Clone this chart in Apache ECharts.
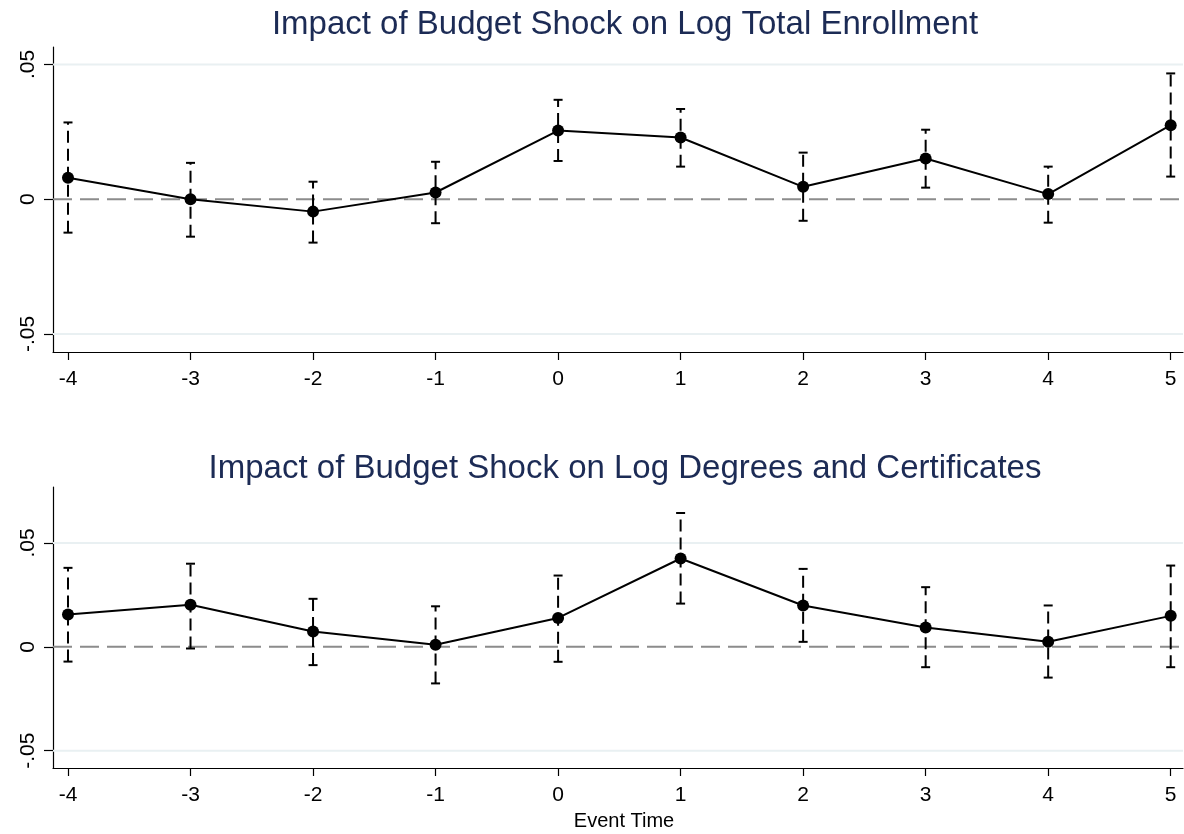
<!DOCTYPE html>
<html>
<head>
<meta charset="utf-8">
<script src="https://cdn.jsdelivr.net/npm/echarts@6/dist/echarts.min.js"></script>
<style>
html,body{margin:0;padding:0;background:#fff;}
#chart{width:1184px;height:834px;}
</style>
</head>
<body>
<div id="chart"></div>
<script>
const eventTime = [-4, -3, -2, -1, 0, 1, 2, 3, 4, 5];
const enrollCoef = [0.0080, 0.0000, -0.0046, 0.0025, 0.0255, 0.0229, 0.0046, 0.0151, 0.0019, 0.0275];
const enrollLo   = [-0.0124, -0.0139, -0.0161, -0.0089, 0.0142, 0.0121, -0.0080, 0.0043, -0.0087, 0.0084];
const enrollHi   = [0.0285, 0.0135, 0.0065, 0.0139, 0.0369, 0.0335, 0.0173, 0.0258, 0.0121, 0.0467];
const degCoef = [0.0155, 0.0202, 0.0074, 0.0010, 0.0139, 0.0425, 0.0199, 0.0093, 0.0024, 0.0149];
const degLo   = [-0.0071, -0.0008, -0.0088, -0.0176, -0.0072, 0.0208, 0.0024, -0.0098, -0.0148, -0.0098];
const degHi   = [0.0380, 0.0400, 0.0231, 0.0195, 0.0343, 0.0644, 0.0375, 0.0287, 0.0199, 0.0391];
const yTicks = [-0.05, 0, 0.05];
const titles = ['Impact of Budget Shock on Log Total Enrollment', 'Impact of Budget Shock on Log Degrees and Certificates'];
const xTitle = 'Event Time';

const FONT = '"Liberation Sans", Arial, Helvetica, sans-serif';
const chart = echarts.init(document.getElementById('chart'), null, {renderer: 'canvas'});

function fmtY(v) {
  if (Math.abs(v) < 1e-9) return '0';
  return (v < 0 ? '-' : '') + Math.abs(v).toFixed(2).replace(/^0/, '');
}

function errRender(params, api) {
  const x = api.value(0), lo = api.value(1), hi = api.value(2);
  const pLo = api.coord([x, lo]);
  const pHi = api.coord([x, hi]);
  const w = 4.5;
  const st = {stroke: '#000', lineWidth: 2, fill: null};
  return {
    type: 'group',
    children: [
      {type: 'line', shape: {x1: pLo[0], y1: pLo[1], x2: pHi[0], y2: pHi[1]}, style: Object.assign({}, st, {lineDash: [12, 6]})},
      {type: 'line', shape: {x1: pLo[0] - w, y1: pLo[1], x2: pLo[0] + w, y2: pLo[1]}, style: st},
      {type: 'line', shape: {x1: pHi[0] - w, y1: pHi[1], x2: pHi[0] + w, y2: pHi[1]}, style: st}
    ]
  };
}

function refRender(params, api) {
  const v = api.value(0);
  const cs = params.coordSys;
  const p = api.coord([0, v]);
  const isZero = Math.abs(v) < 1e-9;
  return {
    type: 'line',
    shape: {x1: cs.x, y1: p[1], x2: cs.x + cs.width, y2: p[1]},
    style: isZero ? {stroke: '#8c8c8c', lineWidth: 2, lineDash: [19, 8]} : {stroke: '#e9f0f2', lineWidth: 2}
  };
}

const grids = [
  {left: 53, top: 47, width: 1130, height: 305},
  {left: 53, top: 487, width: 1130, height: 281}
];
const yRanges = [[-0.0567, 0.0565], [-0.0583, 0.0769]];

const xAxes = grids.map((g, i) => ({
  type: 'value', gridIndex: i, min: -4.1224, max: 5.1004,
  axisLine: {show: true, onZero: false, lineStyle: {color: '#000', width: 1.2}},
  axisTick: {show: true, length: 8, customValues: eventTime, lineStyle: {color: '#000', width: 1.2}},
  axisLabel: {show: true, customValues: eventTime, margin: 17, color: '#000', fontSize: 21, fontFamily: FONT, formatter: v => String(v)},
  splitLine: {show: false}
}));
const yAxes = grids.map((g, i) => ({
  type: 'value', gridIndex: i, min: yRanges[i][0], max: yRanges[i][1],
  axisLine: {show: true, onZero: false, lineStyle: {color: '#000', width: 1.2}},
  axisTick: {show: true, length: 9, customValues: yTicks, lineStyle: {color: '#000', width: 1.2}},
  axisLabel: {show: true, customValues: yTicks, rotate: 90, margin: 14, color: '#000', fontSize: 21, fontFamily: FONT, formatter: fmtY},
  splitLine: {show: false}
}));

const sets = [[enrollCoef, enrollLo, enrollHi], [degCoef, degLo, degHi]];
const series = [];
sets.forEach((s, i) => {
  series.push({
    type: 'custom', xAxisIndex: i, yAxisIndex: i, z: 1, silent: true,
    renderItem: refRender, data: yTicks.map(v => [v]), encode: {x: -1, y: 0}, clip: false
  });
  series.push({
    type: 'custom', xAxisIndex: i, yAxisIndex: i, z: 2, silent: true,
    renderItem: errRender, data: eventTime.map((t, k) => [t, s[1][k], s[2][k]]), encode: {x: 0, y: [1, 2]}
  });
  series.push({
    type: 'line', xAxisIndex: i, yAxisIndex: i, z: 3, silent: true,
    data: eventTime.map((t, k) => [t, s[0][k]]),
    symbol: 'circle', symbolSize: 12, showSymbol: true,
    itemStyle: {color: '#000'}, lineStyle: {color: '#000', width: 2}
  });
});

chart.setOption({
  animation: false,
  backgroundColor: '#fff',
  title: [
    {text: titles[0], left: 620, top: 3, textAlign: 'center', textStyle: {color: '#1c2b55', fontSize: 33, fontWeight: 'normal', fontFamily: FONT}},
    {text: titles[1], left: 620, top: 447, textAlign: 'center', textStyle: {color: '#1c2b55', fontSize: 33, fontWeight: 'normal', fontFamily: FONT}},
    {text: xTitle, left: 619, top: 806, textAlign: 'center', textStyle: {color: '#000', fontSize: 20, fontWeight: 'normal', fontFamily: FONT}}
  ],
  grid: grids,
  xAxis: xAxes,
  yAxis: yAxes,
  series: series
});
</script>
</body>
</html>
